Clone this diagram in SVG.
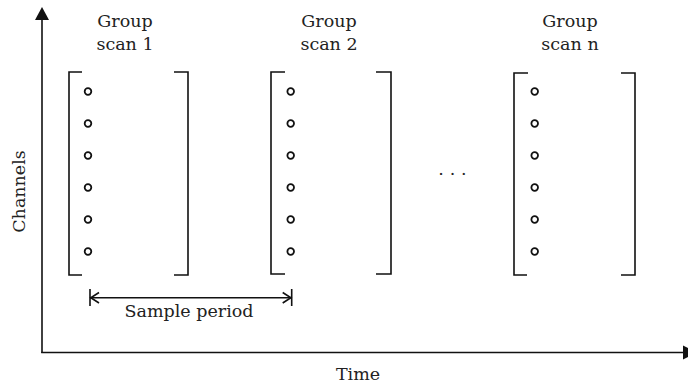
<svg xmlns="http://www.w3.org/2000/svg" width="688" height="386" viewBox="0 0 688 386">
  <style>
    .ln { fill: none; stroke: #111; stroke-width: 1.6; }
    .ch { fill: #fff; stroke: #111; stroke-width: 1.8; }
    .t { font-family: "DejaVu Serif", "Liberation Serif", serif; font-size: 17.5px; fill: #222; }
    .c { text-anchor: middle; }
  </style>
  <defs>
    <g id="dots">
      <circle class="ch" cx="0" cy="91.5" r="3.3"/>
      <circle class="ch" cx="0" cy="123.5" r="3.3"/>
      <circle class="ch" cx="0" cy="155.5" r="3.3"/>
      <circle class="ch" cx="0" cy="187.5" r="3.3"/>
      <circle class="ch" cx="0" cy="219.5" r="3.3"/>
      <circle class="ch" cx="0" cy="251.5" r="3.3"/>
    </g>
  </defs>
  <rect width="688" height="386" fill="#fff"/>

  <g id="connectors">
    <g id="y-axis">
      <line class="ln" x1="42" y1="18" x2="42" y2="353"/>
      <polygon points="42,7 35,20 49,20" fill="#111"/>
    </g>
    <g id="x-axis">
      <line class="ln" x1="41.2" y1="352.5" x2="685" y2="352.5"/>
      <polygon points="683,345.5 697,352.5 683,359.5" fill="#111"/>
    </g>
    <g id="sample-period-arrow">
      <line class="ln" x1="90" y1="297.7" x2="291.7" y2="297.7"/>
      <path class="ln" d="M90,289 V306 M291.7,289 V306"/>
      <path class="ln" d="M99,292.5 L90.8,297.7 L99,303 M282.7,292.5 L290.9,297.7 L282.7,303"/>
    </g>
  </g>

  <g id="group-scan-1">
    <text class="t c" x="125" y="27">Group</text>
    <text class="t c" x="125" y="50">scan 1</text>
    <path class="ln" d="M82,72 H69 V275 H82 M174,72 H188 V275 H174"/>
    <use href="#dots" x="88"/>
  </g>

  <g id="group-scan-2">
    <text class="t c" x="329" y="27">Group</text>
    <text class="t c" x="329" y="50">scan 2</text>
    <path class="ln" d="M285,72 H271 V274 H285 M376,72 H391 V274 H376"/>
    <use href="#dots" x="290.7"/>
  </g>

  <g id="ellipsis">
    <text class="t" x="438.2" y="175" letter-spacing="5.9">...</text>
  </g>

  <g id="group-scan-n">
    <text class="t c" x="570" y="27">Group</text>
    <text class="t c" x="570" y="50">scan n</text>
    <path class="ln" d="M528,73 H514 V275 H527 M621,73 H635 V275 H621"/>
    <use href="#dots" x="534.7"/>
  </g>

  <g id="labels">
    <text class="t c" x="189" y="316.5">Sample period</text>
    <text class="t c" x="358" y="379.5">Time</text>
    <text class="t c" transform="translate(25,191.5) rotate(-90)">Channels</text>
  </g>
</svg>
